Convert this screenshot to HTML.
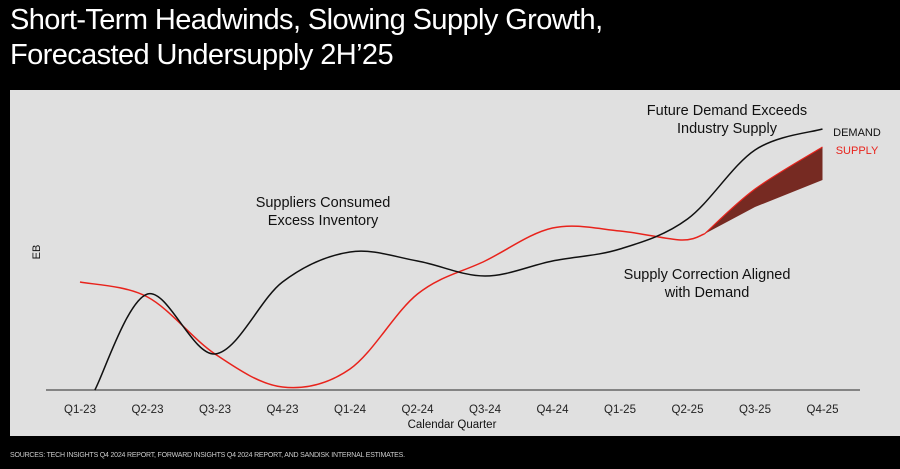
<!DOCTYPE html>
<html><head><meta charset="utf-8"><style>
html,body{margin:0;padding:0;background:#000;width:900px;height:469px;overflow:hidden;font-family:"Liberation Sans",sans-serif}
#title{position:absolute;left:10px;top:3px;color:#fff;font-size:29px;line-height:35px;letter-spacing:-0.6px}
#src{position:absolute;left:10px;top:452px;color:#ccc;font-size:7px;letter-spacing:-0.2px}
svg{position:absolute;left:0;top:0}
</style></head><body>
<div id="title">Short-Term Headwinds, Slowing Supply Growth,<br>Forecasted Undersupply 2H’25</div>
<svg id="chart" width="900" height="469"></svg>
<div id="src">SOURCES: TECH INSIGHTS Q4 2024 REPORT, FORWARD INSIGHTS Q4 2024 REPORT, AND SANDISK INTERNAL ESTIMATES.</div>
<script>
const categories=["Q1-23","Q2-23","Q3-23","Q4-23","Q1-24","Q2-24","Q3-24","Q4-24","Q1-25","Q2-25","Q3-25","Q4-25"];
const demandX=[0.22,1,2,3,4,5,6,7,8,9,10,11];
const demandValues=[0,32,12,36,46,43,38,43,47,57,80,87];
const supplyX=[0,1,2,3,4,5,6,7,8,8.9,9.25];
const supplyValues=[36,31,12,1,7,32,43,54,53,50,52];
const bandX=[9.25,10,11];
const bandUpper=[52,67,81];
const bandLower=[52,61,70];
const NS="http://www.w3.org/2000/svg";
const svg=document.getElementById('chart');
const xS=i=>80+i*67.5, yS=v=>390-v*3;
function mk(t,a){const e=document.createElementNS(NS,t);for(const k in a)e.setAttribute(k,a[k]);svg.appendChild(e);return e;}
function smooth(xs,vs){const p=xs.map((x,i)=>[xS(x),yS(vs[i])]);let d=`M${p[0][0]},${p[0][1]}`;
for(let i=0;i<p.length-1;i++){const p0=p[i-1]||p[i],p1=p[i],p2=p[i+1],p3=p[i+2]||p2;
d+=` C${p1[0]+(p2[0]-p0[0])/6},${p1[1]+(p2[1]-p0[1])/6} ${p2[0]-(p3[0]-p1[0])/6},${p2[1]-(p3[1]-p1[1])/6} ${p2[0]},${p2[1]}`;}return d;}
const bg=mk('rect',{x:10,y:90,width:890,height:346,fill:'#e0e0e0'});

const ax=mk('line',{x1:46,y1:390,x2:860,y2:390,stroke:'#666','stroke-width':1.5});

categories.forEach((c,i)=>{const t=mk('text',{x:xS(i),y:413,'text-anchor':'middle','font-size':11.5,fill:'#222'});t.textContent=c;
});
function txt(x,y,s,name,opt){const t=mk('text',Object.assign({x,y,'font-size':14.5,fill:'#111','text-anchor':'middle'},opt||{}));t.textContent=s;
return t;}
txt(452,428,'Calendar Quarter','x-axis-title',{'font-size':11.5});
txt(40,252,'EB','y-axis-title',{'font-size':11,transform:'rotate(-90 40 252)'});
const up=smooth(bandX,bandUpper);
const lowPts=bandX.map((x,i)=>[xS(x),yS(bandLower[i])]).reverse();
const band=mk('path',{d:up+' L'+lowPts.map(p=>p.join(',')).join(' L')+' Z',fill:'#762a22'});

const sp=mk('path',{d:smooth(supplyX,supplyValues),fill:'none',stroke:'#e8231c','stroke-width':1.5});

const su=mk('path',{d:up,fill:'none',stroke:'#e8231c','stroke-width':1.2});

const dp=mk('path',{d:smooth(demandX,demandValues),fill:'none',stroke:'#111','stroke-width':1.5});

txt(857,136,'DEMAND','legend-demand',{'font-size':11,fill:'#111'});
txt(857,154,'SUPPLY','legend-supply',{'font-size':11,fill:'#e8231c'});
txt(323,207,'Suppliers Consumed','annotation-suppliers');
txt(323,225,'Excess Inventory','annotation-suppliers-2');
txt(727,115,'Future Demand Exceeds','annotation-future');
txt(727,133,'Industry Supply','annotation-future-2');
txt(707,279,'Supply Correction Aligned','annotation-correction');
txt(707,297,'with Demand','annotation-correction-2');
</script>
</body></html>
